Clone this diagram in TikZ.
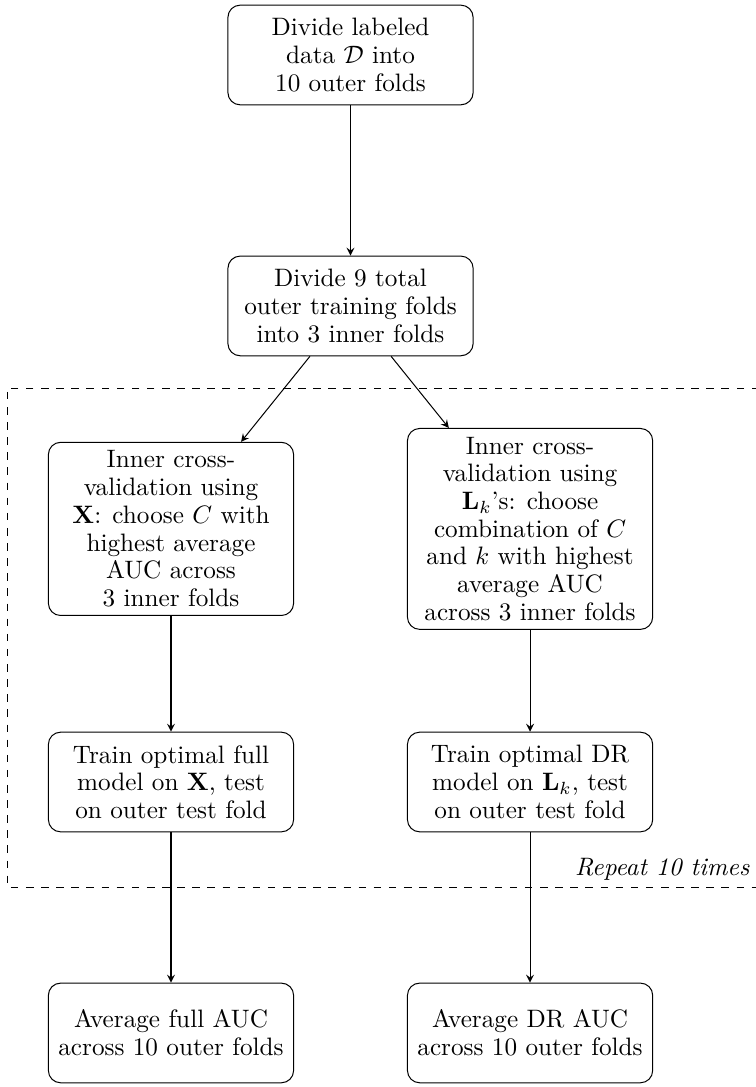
\documentclass[tikz,border=0pt]{standalone}
\usepackage{amsmath}
\usetikzlibrary{shapes,arrows,positioning,calc}

\begin{document}
\begin{tikzpicture}[
    node distance=3.5cm,
    on grid,
    block/.style={rectangle, draw, rounded corners=0.17cm, minimum width=3.42cm, minimum height=1.39cm, align=center, font=\fontsize{10}{11}\selectfont},
    arrow/.style={->, >=stealth},
    note/.style={font=\fontsize{10}{11}\selectfont\itshape, inner sep=2pt}
]

    \useasboundingbox (-4.889,0.767) rectangle (5.642,-14.394);

    % Outer folds
    \node[block] (divide) at (0,0) {Divide labeled\\data $\mathcal{D}$ into\\10 outer folds};
    \node[block, below=of divide] (inner) {Divide 9 total\\outer training folds\\into 3 inner folds};

    % Inner cross-validation
    \node[block, below left=3.11cm and 2.504cm of inner] (cvfull) {Inner cross-\\validation using\\$\mathbf{X}$: choose $C$ with\\highest average\\AUC across\\3 inner folds};
    \node[block, below right=3.11cm and 2.504cm of inner] (cvdr) {Inner cross-\\validation using\\$\mathbf{L}_k$'s: choose\\combination of $C$\\and $k$ with highest\\average AUC\\across 3 inner folds};

    % Outer test
    \node[block, below=3.53cm of cvfull] (trainfull) {Train optimal full\\model on $\mathbf{X}$, test\\on outer test fold};
    \node[block, below=3.53cm of cvdr] (traindr) {Train optimal DR\\model on $\mathbf{L}_k$, test\\on outer test fold};

    % Averages
    \node[block, below=of trainfull] (avgfull) {Average full AUC\\across 10 outer folds};
    \node[block, below=of traindr] (avgdr) {Average DR AUC\\across 10 outer folds};

    % Repeat frame
    \coordinate (frame-ne) at (5.7,-4.645);
    \coordinate (frame-nw) at (-4.79,-4.645);
    \coordinate (frame-sw) at (-4.79,-11.605);
    \coordinate (frame-se) at (5.7,-11.605);
    \draw[dashed] (frame-ne) -- (frame-nw) -- (frame-sw) -- (frame-se);
    \node[note, anchor=south east] (repeat) at ($(frame-se)+(-0.06,0.02)$) {Repeat 10 times};

    % Arrows
    \draw[arrow] (divide) -- (inner);
    \draw[arrow] (inner) -- (cvfull);
    \draw[arrow] (inner) -- (cvdr);
    \draw[arrow] (cvfull) -- (trainfull);
    \draw[arrow] (cvdr) -- (traindr);
    \draw[arrow] (trainfull) -- (avgfull);
    \draw[arrow] (traindr) -- (avgdr);

\end{tikzpicture}
\end{document}
